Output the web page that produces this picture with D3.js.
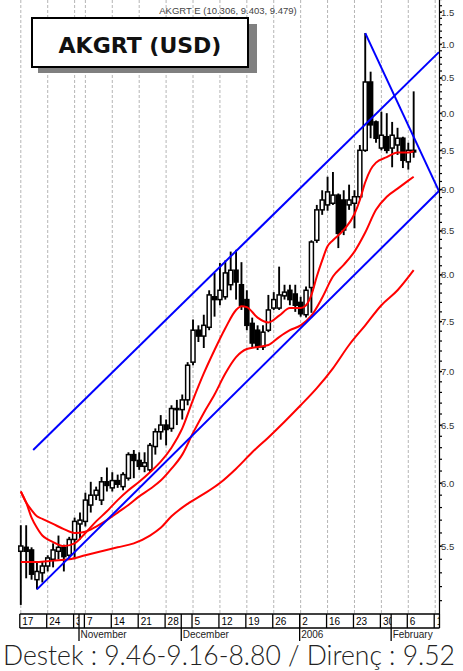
<!DOCTYPE html>
<html><head><meta charset="utf-8">
<script src="https://cdn.jsdelivr.net/npm/d3@7"></script>
<style>html,body{margin:0;padding:0;background:#fff;}svg{display:block}</style>
</head><body>
<svg id="c" width="463" height="671"></svg>
<script>
// ---- data (trading-day index 0 = 17 Oct 2005) ----
const openP = [5.46,5.49,5.47,5.25,5.30,5.35,5.40,5.46,5.49,5.43,
5.55,5.67,5.69,5.82,5.90,5.86,6.01,5.96,6.02,5.97,
6.04,6.24,6.19,6.14,6.11,6.31,6.44,6.50,6.47,6.65,
6.64,6.73,7.09,7.41,7.35,7.44,7.76,7.73,7.76,7.89,
8.05,7.89,7.73,7.48,7.41,7.24,7.41,7.64,7.64,7.77,
7.83,7.79,7.70,7.57,7.86,8.39,8.75,8.81,8.83,8.93,
8.87,8.81,8.83,8.91,9.50,10.44,9.88,9.53,9.68,9.53,
9.57,9.66,9.35,9.50];
const highP = [5.66,5.66,5.49,5.38,5.38,5.43,5.52,5.58,5.51,5.57,
5.72,5.76,5.92,6.01,5.97,6.05,6.13,6.09,6.07,6.09,
6.26,6.28,6.26,6.26,6.34,6.47,6.59,6.55,6.68,6.73,
6.78,7.09,7.52,7.46,7.57,7.83,8.02,8.13,8.16,8.26,
8.28,8.14,7.83,7.54,7.46,7.46,7.78,7.81,8.09,7.89,
7.89,7.89,7.76,7.87,8.39,8.81,8.99,9.16,9.22,8.95,
8.99,9.06,8.99,9.57,11.17,10.59,9.90,10.02,10.00,9.88,
9.80,9.68,9.60,10.306];
const lowP = [5.07,5.26,5.25,5.18,5.23,5.31,5.34,5.40,5.31,5.40,
5.40,5.55,5.65,5.76,5.86,5.82,5.93,5.93,5.96,5.94,
6.02,6.04,6.11,6.09,6.09,6.24,6.37,6.32,6.44,6.50,
6.55,6.68,7.06,7.29,7.23,7.41,7.55,7.67,7.73,7.83,
7.73,7.62,7.41,7.24,7.21,7.21,7.39,7.62,7.62,7.73,
7.67,7.60,7.55,7.54,7.59,8.36,8.69,8.74,8.81,8.30,
8.45,8.75,8.53,8.87,9.48,9.66,9.60,9.50,9.46,9.28,
9.44,9.27,9.25,9.403];
const closeP = [5.50,5.46,5.29,5.31,5.35,5.41,5.47,5.49,5.42,5.55,
5.69,5.70,5.86,5.90,5.94,6.01,5.98,6.02,5.99,6.07,
6.24,6.19,6.14,6.17,6.32,6.44,6.50,6.46,6.65,6.64,
6.73,7.06,7.41,7.35,7.46,7.78,7.73,7.83,8.02,8.05,
7.92,7.67,7.46,7.28,7.24,7.39,7.62,7.73,7.78,7.81,
7.73,7.67,7.58,7.83,8.37,8.75,8.87,8.97,8.93,8.47,
8.51,8.87,8.91,9.50,10.44,9.84,9.66,9.70,9.50,9.70,
9.66,9.37,9.50,9.479];

// moving averages
const fastIdx = [0,1,2,3,4,5,6,8,10,12,14,16,18,20,22,24,26,28,30,32,34,36,38,40,41,42,44,46,48,50,52,53,54,55,56,57,58,60,62,63,64,65,66,68,70,72,73];
const fastVal = [5.93,5.84,5.72,5.64,5.58,5.55,5.53,5.50,5.52,5.60,5.69,5.77,5.86,5.94,6.01,6.09,6.18,6.30,6.47,6.73,6.98,7.21,7.43,7.62,7.66,7.65,7.54,7.49,7.56,7.64,7.64,7.67,7.78,7.98,8.16,8.32,8.39,8.51,8.70,8.87,9.09,9.25,9.34,9.41,9.47,9.47,9.49];
const midIdx = [0,1,2,3,4,6,8,10,12,14,16,18,20,22,24,26,28,30,32,34,36,38,40,42,44,46,48,50,52,54,56,58,60,62,64,66,68,70,72,73];
const midVal = [5.93,5.84,5.78,5.73,5.71,5.67,5.63,5.60,5.61,5.65,5.70,5.76,5.82,5.89,5.95,6.02,6.12,6.24,6.43,6.61,6.78,6.98,7.14,7.22,7.24,7.26,7.34,7.41,7.46,7.56,7.75,7.98,8.11,8.26,8.48,8.75,8.91,9.01,9.11,9.16];
const slowIdx = [0,3,6,9,12,15,18,21,24,26,28,31,34,37,40,43,46,49,52,55,58,61,64,67,70,73];
const slowVal = [5.38,5.38,5.39,5.40,5.43,5.46,5.49,5.52,5.58,5.64,5.73,5.83,5.91,6.00,6.12,6.26,6.39,6.53,6.68,6.84,7.03,7.26,7.46,7.67,7.83,8.05];

// trend lines (start idx/value, end idx/value)
const trendStartIdx = [2.3, 3, 64];
const trendStartVal = [6.28, 5.18, 11.17];
const trendEndIdx = [77.7, 77.7, 77.7];
const trendEndVal = [10.88, 8.98, 8.98];

// x-axis ticks
const weekIdx = [0,5,10,12,17,22,27,32,37,42,47,52,57,62,67,72,77];
const weekLabels = ["17","24","31","7","14","21","28","5","12","19","26","2","16","23","30","6","13"];
const monthIdx = [11,30,52,69];
const monthLabels = ["November","December","2006","February"];
const yTicks = [5.5,6.0,6.5,7.0,7.5,8.0,8.5,9.0,9.5,10.0,10.5,11.0,11.5];

const titleText = "AKGRT (USD)";
const infoText = "AKGRT E (10.306, 9.403, 9.479)";
const footText = "Destek : 9.46-9.16-8.80 / Direnç : 9.52";

// ---- drawing ----
const svg = d3.select('#c');
const x = d3.scaleLinear().domain([0,77]).range([20.8,435.2]);
const y = d3.scaleLog().domain([5.5,11.5]).range([546,12]);
const axisX = 439.5, plotBottom = 614;

// grid
svg.append('g').selectAll('line').data(weekIdx).join('line')
  .attr('x1',d=>x(d)).attr('x2',d=>x(d)).attr('y1',0).attr('y2',plotBottom)
  .attr('stroke','#b5b5b5').attr('stroke-width',1).attr('stroke-dasharray','3,2');

// info text
svg.append('text').attr('x',228).attr('y',14).attr('text-anchor','middle')
  .attr('font-family','Liberation Sans, Arial, sans-serif').attr('font-size',9.5)
  .attr('fill','#444').text(infoText);

// title box
svg.append('rect').attr('x',38).attr('y',24).attr('width',219).attr('height',49).attr('fill','#808080');
svg.append('rect').attr('x',32).attr('y',18).attr('width',216).attr('height',49)
  .attr('fill','#fff').attr('stroke','#000').attr('stroke-width',2);
svg.append('text').attr('x',140).attr('y',53).attr('text-anchor','middle')
  .attr('font-family','DejaVu Sans, sans-serif').attr('font-weight','bold').attr('font-size',22)
  .attr('fill','#111').text(titleText);

// candles
const idx = d3.range(openP.length);
const cg = svg.append('g');
cg.selectAll('line').data(idx).join('line')
  .attr('x1',i=>x(i)).attr('x2',i=>x(i)).attr('y1',i=>y(highP[i])).attr('y2',i=>y(lowP[i]))
  .attr('stroke','#000').attr('stroke-width',1.9);
cg.selectAll('rect').data(idx).join('rect')
  .attr('x',i=>x(i)-2).attr('width',4)
  .attr('y',i=>Math.min(y(openP[i]),y(closeP[i])))
  .attr('height',i=>Math.max(1,Math.abs(y(openP[i])-y(closeP[i]))))
  .attr('fill',i=>closeP[i]>=openP[i]?'#fff':'#000')
  .attr('stroke','#000').attr('stroke-width',1.5);

// moving averages
const lineGen = d3.line().x(d=>x(d[0])).y(d=>y(d[1])).curve(d3.curveMonotoneX);
[[fastIdx,fastVal],[midIdx,midVal],[slowIdx,slowVal]].forEach(([a,b])=>{
  svg.append('path').attr('d',lineGen(a.map((v,k)=>[v,b[k]])))
    .attr('fill','none').attr('stroke','#ff0000').attr('stroke-width',2);
});

// trend lines
svg.append('g').selectAll('line').data(d3.range(trendStartIdx.length)).join('line')
  .attr('x1',k=>x(trendStartIdx[k])).attr('y1',k=>y(trendStartVal[k]))
  .attr('x2',k=>x(trendEndIdx[k])).attr('y2',k=>y(trendEndVal[k]))
  .attr('stroke','#0000ff').attr('stroke-width',2);

// right axis
svg.append('line').attr('x1',axisX).attr('x2',axisX).attr('y1',0).attr('y2',plotBottom)
  .attr('stroke','#000').attr('stroke-width',1.2);
const minor = d3.range(51,118).map(v=>v/10);
svg.append('g').selectAll('line').data(minor).join('line')
  .attr('x1',axisX).attr('x2',axisX+2.5).attr('y1',d=>y(d)).attr('y2',d=>y(d))
  .attr('stroke','#000').attr('stroke-width',1.2);
const yAxis = d3.axisRight(y).tickValues(yTicks).tickSize(2)
  .tickFormat(d=>(d>=10?d-10:d).toFixed(1));
const ya = svg.append('g').attr('transform',`translate(${axisX},0)`).call(yAxis);
ya.select('.domain').remove();
ya.selectAll('text').attr('x',1.5).attr('font-family','Liberation Sans, Arial, sans-serif')
  .attr('font-size',9.5).attr('fill','#333');

// bottom axis
const axg = svg.append('g');
axg.append('line').attr('x1',x(0)-1).attr('x2',axisX).attr('y1',614).attr('y2',614).attr('stroke','#000').attr('stroke-width',1.5);
axg.append('line').attr('x1',x(0)-1).attr('x2',axisX).attr('y1',628).attr('y2',628).attr('stroke','#000').attr('stroke-width',1.5);
axg.selectAll('.wk').data(weekIdx).join('line').attr('class','wk')
  .attr('x1',d=>x(d)-1).attr('x2',d=>x(d)-1).attr('y1',614).attr('y2',628)
  .attr('stroke','#000').attr('stroke-width',1.3);
axg.selectAll('.mo').data(monthIdx).join('line').attr('class','mo')
  .attr('x1',d=>x(d)-1).attr('x2',d=>x(d)-1).attr('y1',614).attr('y2',641)
  .attr('stroke','#000').attr('stroke-width',1.3);
axg.append('line').attr('x1',axisX).attr('x2',axisX).attr('y1',614).attr('y2',628).attr('stroke','#000').attr('stroke-width',1.3);

const bounds = weekIdx.map(d=>x(d)-1).concat(monthIdx.map(d=>x(d)-1)).concat([axisX]).sort((a,b)=>a-b);
const defs = svg.append('defs');
weekIdx.forEach((d,k)=>{
  const x0 = x(d)-1;
  const nx = bounds.find(b=>b>x0+0.5) || axisX;
  defs.append('clipPath').attr('id','wc'+k).append('rect')
    .attr('x',x0).attr('y',614).attr('width',nx-x0).attr('height',14);
  axg.append('text').attr('x',x0+2.5).attr('y',625).attr('clip-path',`url(#wc${k})`)
    .attr('font-family','Liberation Sans, Arial, sans-serif').attr('font-size',10)
    .attr('fill','#000').text(weekLabels[k]);
});
monthIdx.forEach((d,k)=>{
  axg.append('text').attr('x',x(d)+0.5).attr('y',638)
    .attr('font-family','Liberation Sans, Arial, sans-serif').attr('font-size',10)
    .attr('fill','#222').text(monthLabels[k]);
});

// footer (font size fitted to the reference width)
const foot = svg.append('text').attr('x',3).attr('y',665)
  .attr('font-family','Lato, Open Sans, sans-serif').attr('font-weight',300).attr('font-size',24)
  .attr('fill','#222').text(footText);
const fw = foot.node().getComputedTextLength();
if (fw > 0) foot.attr('font-size', (24*452/fw).toFixed(2));
</script>
</body></html>
